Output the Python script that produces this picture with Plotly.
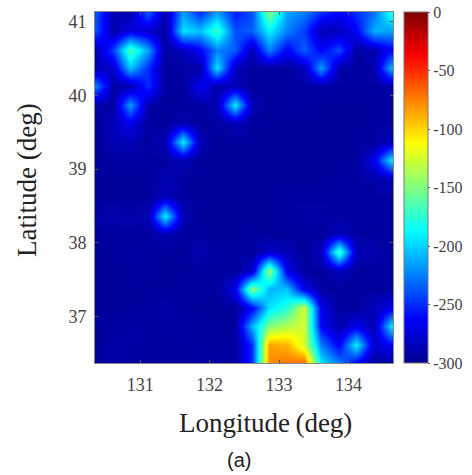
import plotly.graph_objects as go

longitudes = [130.36 + 0.25 * i for i in range(18)]
latitudes = [41.12 - 0.25 * j for j in range(20)]

r00 = [-240,-287,-291,-235,-291,-215,-250,-215,-255,-240,-150,-215,-225,-250,-265,-250,-230,-180]
r01 = [-240,-291,-270,-280,-294,-195,-205,-170,-240,-235,-190,-225,-245,-287,-285,-265,-210,-215]
r02 = [-287,-245,-165,-215,-294,-285,-265,-225,-235,-287,-225,-265,-235,-265,-240,-294,-287,-265]
r03 = [-287,-280,-205,-250,-294,-294,-291,-195,-285,-294,-294,-294,-285,-215,-291,-294,-291,-210]
r04 = [-225,-291,-291,-250,-294,-294,-265,-291,-287,-296,-296,-294,-294,-291,-294,-294,-294,-291]
r05 = [-291,-294,-215,-291,-296,-296,-294,-287,-190,-287,-296,-294,-294,-296,-296,-296,-296,-294]
r06 = [-294,-285,-270,-294,-296,-287,-296,-294,-287,-294,-296,-296,-296,-296,-296,-296,-294,-294]
r07 = [-296,-287,-287,-294,-287,-190,-287,-296,-296,-296,-296,-296,-296,-296,-296,-296,-294,-285]
r08 = [-296,-294,-294,-294,-294,-287,-296,-296,-296,-296,-296,-296,-296,-296,-296,-294,-270,-195]
r09 = [-296,-296,-296,-296,-287,-294,-296,-296,-296,-296,-296,-296,-296,-296,-294,-294,-291,-285]
r10 = [-296,-296,-296,-296,-285,-294,-296,-296,-296,-296,-296,-294,-294,-294,-294,-294,-294,-294]
r11 = [-291,-289,-291,-287,-190,-287,-296,-296,-296,-296,-296,-294,-292,-292,-294,-294,-294,-295]
r12 = [-295,-295,-295,-295,-287,-295,-296,-296,-296,-294,-296,-296,-296,-295,-285,-294,-295,-295]
r13 = [-296,-296,-294,-294,-296,-296,-289,-294,-295,-296,-280,-287,-295,-285,-165,-285,-289,-294]
r14 = [-296,-296,-295,-295,-296,-296,-295,-296,-295,-280,-140,-270,-295,-295,-285,-295,-294,-295]
r15 = [-296,-296,-296,-296,-296,-295,-295,-294,-270,-145,-210,-205,-270,-294,-295,-296,-295,-294]
r16 = [-296,-296,-296,-294,-291,-295,-296,-296,-296,-265,-195,-175,-125,-270,-295,-294,-285,-270]
r17 = [-296,-294,-292,-295,-294,-292,-295,-296,-294,-210,-150,-135,-125,-265,-289,-270,-289,-195]
r18 = [-296,-292,-292,-295,-295,-295,-294,-295,-294,-250,-85,-90,-125,-225,-265,-190,-280,-265]
r19 = [-296,-292,-294,-294,-295,-294,-294,-294,-294,-250,-78,-72,-68,-195,-225,-265,-294,-294]
power_db = [r00, r01, r02, r03, r04, r05, r06, r07, r08, r09,
            r10, r11, r12, r13, r14, r15, r16, r17, r18, r19]

x_ticks = [131, 132, 133, 134]
y_ticks = [37, 38, 39, 40, 41]
cbar_ticks = [0, -50, -100, -150, -200, -250, -300]

jet = [[0, "rgb(0,0,143)"], [0.125, "rgb(0,0,255)"], [0.375, "rgb(0,255,255)"],
       [0.625, "rgb(255,255,0)"], [0.875, "rgb(255,0,0)"], [1, "rgb(128,0,0)"]]

W, H = 472, 475
L, R, T, B = 95, 393, 12, 363
serif = "Liberation Serif, Times New Roman, serif"

fig = go.Figure(go.Heatmap(
    x=longitudes, y=latitudes[::-1], z=power_db[::-1],
    zmin=-300, zmax=0, zsmooth="best", colorscale=jet,
    colorbar=dict(tickvals=cbar_ticks, ticktext=[str(t) for t in cbar_ticks],
                  thickness=24, thicknessmode="pixels", len=(B - T) / H, lenmode="fraction",
                  x=404 / W, xanchor="left", y=1 - T / H, yanchor="top", xpad=0, ypad=0,
                  outlinecolor="#777", outlinewidth=1, ticks="outside", ticklen=2,
                  tickcolor="#555", tickfont=dict(family=serif, size=16, color="#444")),
))
axis = dict(showgrid=False, zeroline=False, showline=True, linecolor="#888", linewidth=1,
            mirror="ticks", ticks="inside", ticklen=3, tickcolor="#555",
            tickfont=dict(family=serif, size=18, color="#444"))
note = dict(xref="paper", yref="paper", showarrow=False, xanchor="center", yanchor="middle")
fig.update_layout(
    width=W, height=H, margin=dict(l=0, r=0, t=0, b=0), paper_bgcolor="white", plot_bgcolor="white",
    xaxis=dict(axis, domain=[L / W, R / W], range=[130.35, 134.64], tickvals=x_ticks, ticklabelstandoff=5),
    yaxis=dict(axis, domain=[1 - B / H, 1 - T / H], range=[36.37, 41.13], tickvals=y_ticks, ticklabelstandoff=4),
    annotations=[
        dict(note, text="Longitude\u2009(deg)", x=265 / W, y=1 - 423 / H,
             font=dict(family=serif, size=27, color="#222")),
        dict(note, text="Latitude (deg)", x=27 / W, y=1 - 180 / H, textangle=-90,
             font=dict(family=serif, size=27, color="#222")),
        dict(note, text="(a)", x=239 / W, y=1 - 460 / H,
             font=dict(family="Liberation Sans, Arial, sans-serif", size=20, color="#222")),
    ],
)
fig.write_html("out.html", config={"displayModeBar": False}, post_script="document.body.style.margin='0';")
